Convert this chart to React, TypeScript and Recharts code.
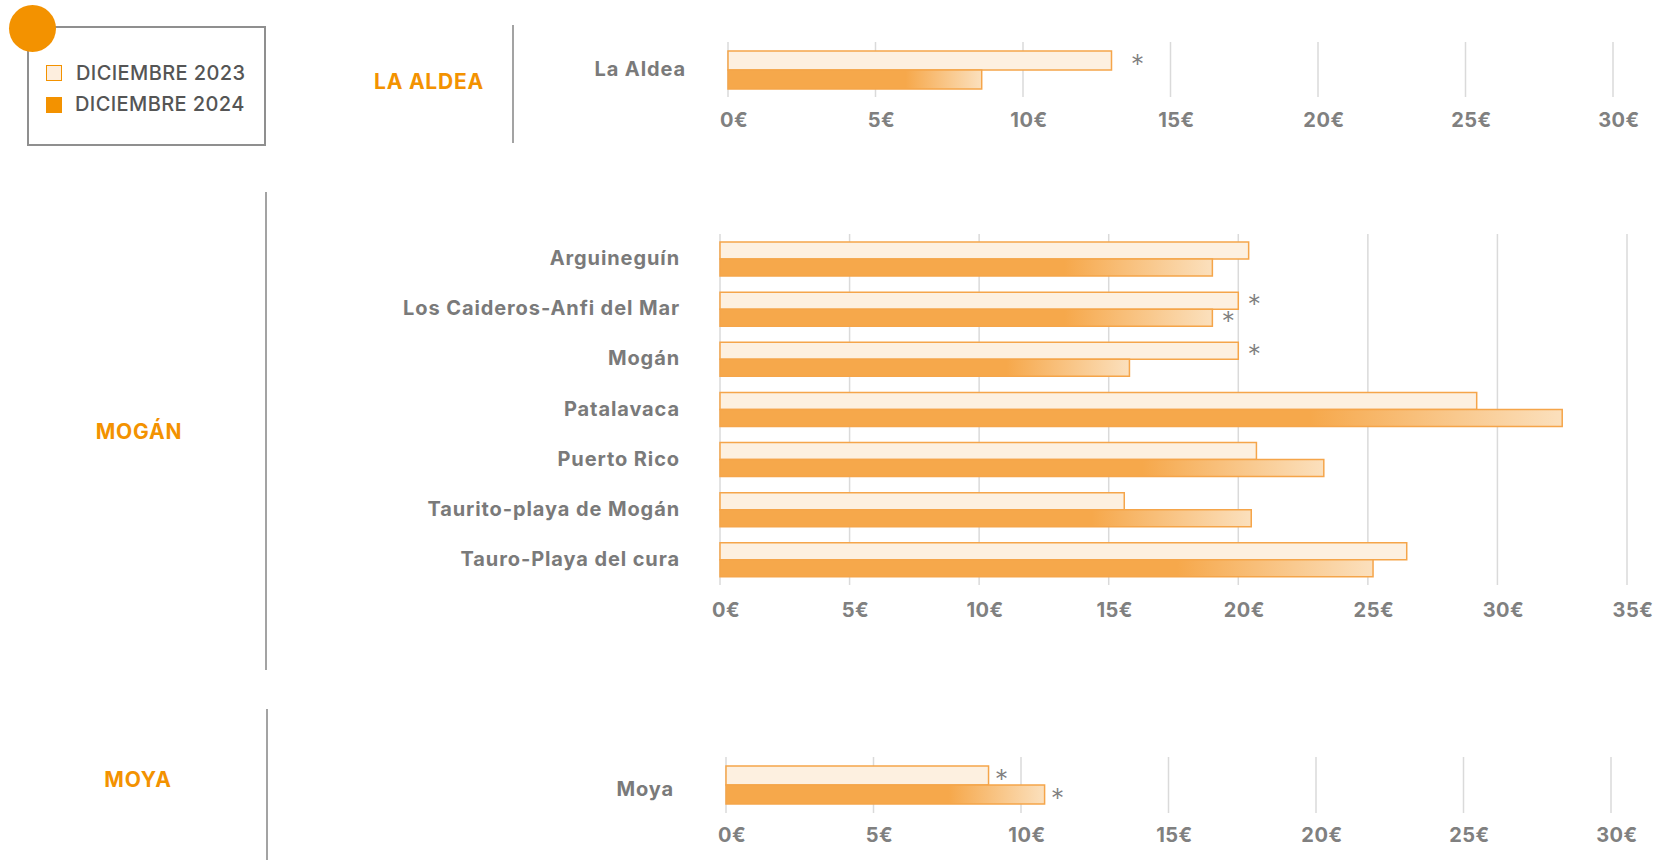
import React from 'react';
import { BarChart, Bar, XAxis, YAxis, CartesianGrid, LabelList } from 'recharts';

// La Aldea
const aldeaNames = ['La Aldea'];
const aldea2023 = [13.0];
const aldea2024 = [8.6];
const aldeaStar2023 = [true];
const aldeaStar2024 = [false];

// Mogán
const moganNames = [
  'Arguineguín',
  'Los Caideros-Anfi del Mar',
  'Mogán',
  'Patalavaca',
  'Puerto Rico',
  'Taurito-playa de Mogán',
  'Tauro-Playa del cura',
];
const mogan2023 = [20.4, 20.0, 20.0, 29.2, 20.7, 15.6, 26.5];
const mogan2024 = [19.0, 19.0, 15.8, 32.5, 23.3, 20.5, 25.2];
const moganStar2023 = [false, true, true, false, false, false, false];
const moganStar2024 = [false, true, false, false, false, false, false];

// Moya
const moyaNames = ['Moya'];
const moya2023 = [8.9];
const moya2024 = [10.8];
const moyaStar2023 = [true];
const moyaStar2024 = [true];

const ticks30 = [0, 5, 10, 15, 20, 25, 30];
const ticks35 = [0, 5, 10, 15, 20, 25, 30, 35];

const FONT = 'Inter, "Open Sans", sans-serif';
const ORANGE = '#f39200';
const BAR_ORANGE = '#f6a84b';
const BAR_STROKE = '#f5a54a';
const LIGHT = '#fdf0e0';
const GRAY_TEXT = '#7a7a7a';

interface SectionProps {
  id: string;
  names: string[];
  v2023: number[];
  v2024: number[];
  star2023: boolean[];
  star2024: boolean[];
  ticks: number[];
  top: number;
  height: number;
  plotTop: number;
  plotBottom: number;
  plotLeft: number;
  plotRight: number;
  barSize: number;
  labelRight: number;
  labelDy: number;
  tickGap: number;
  starDx: number;
}

const Section: React.FC<SectionProps> = (p) => {
  const data = p.names.map((name, i) => ({
    name,
    d2023: p.v2023[i],
    d2024: p.v2024[i],
    s2023: p.star2023[i],
    s2024: p.star2024[i],
  }));
  const xAxisHeight = p.height - p.plotBottom;
  const gradId = `grad-${p.id}`;

  const renderStar = (props: any) => {
    const { x, y, width, height, value } = props;
    if (!value) return null;
    return (
      <text
        x={Number(x) + Number(width) + p.starDx}
        y={Number(y) + Number(height) / 2 + 13}
        fill="#808080"
        fontSize={27}
        fontFamily={FONT}
        fontWeight={300}
        textAnchor="middle"
      >
        *
      </text>
    );
  };

  return (
    <div style={{ position: 'absolute', left: 0, top: p.top }}>
      <BarChart
        width={1658}
        height={p.height}
        data={data}
        layout="vertical"
        barGap={0}
        margin={{ top: p.plotTop, right: 1658 - p.plotRight, left: 0, bottom: 0 }}
      >
        <defs>
          <linearGradient id={gradId} x1="0" y1="0" x2="1" y2="0">
            <stop offset="0" stopColor={BAR_ORANGE} />
            <stop offset="0.7" stopColor={BAR_ORANGE} />
            <stop offset="1" stopColor="#fbe0bd" />
          </linearGradient>
        </defs>
        <CartesianGrid horizontal={false} stroke="#dadada" strokeWidth={1.5} />
        <XAxis
          type="number"
          domain={[0, p.ticks[p.ticks.length - 1]]}
          ticks={p.ticks}
          height={xAxisHeight}
          axisLine={false}
          tickLine={false}
          interval={0}
          tick={(t: any) => (
            <text
              x={t.x + 6}
              y={p.plotBottom + p.tickGap}
              textAnchor="middle"
              dominantBaseline="central"
              fill="#808080"
              fontSize={20}
              fontWeight={700}
              fontFamily={FONT}
              letterSpacing={0.5}
            >
              {`${t.payload.value}€`}
            </text>
          )}
        />
        <YAxis
          type="category"
          dataKey="name"
          width={p.plotLeft}
          axisLine={false}
          tickLine={false}
          interval={0}
          tick={(t: any) => (
            <text
              x={p.labelRight}
              y={t.y + p.labelDy}
              textAnchor="end"
              dominantBaseline="central"
              fill={GRAY_TEXT}
              fontSize={20}
              fontWeight={700}
              fontFamily={FONT}
              letterSpacing={0.9}
            >
              {t.payload.value}
            </text>
          )}
        />
        <Bar
          dataKey="d2023"
          barSize={p.barSize}
          fill={LIGHT}
          stroke={BAR_STROKE}
          strokeWidth={1.5}
          isAnimationActive={false}
        >
          <LabelList dataKey="s2023" content={renderStar} />
        </Bar>
        <Bar
          dataKey="d2024"
          barSize={p.barSize}
          fill={`url(#${gradId})`}
          stroke={BAR_STROKE}
          strokeWidth={1.5}
          isAnimationActive={false}
        >
          <LabelList dataKey="s2024" content={renderStar} />
        </Bar>
      </BarChart>
    </div>
  );
};

const sectionTitle: React.CSSProperties = {
  position: 'absolute',
  transform: 'translate(-50%, -50%)',
  color: ORANGE,
  fontFamily: FONT,
  fontWeight: 700,
  fontSize: 21,
  letterSpacing: 0.8,
  whiteSpace: 'nowrap',
};

const vline = (left: number, top: number, height: number): React.CSSProperties => ({
  position: 'absolute',
  left,
  top,
  width: 2,
  height,
  background: '#a3a3a3',
});

const legendText: React.CSSProperties = {
  position: 'absolute',
  transform: 'translateY(-50%)',
  color: '#555',
  fontFamily: FONT,
  fontWeight: 500,
  fontSize: 20,
  letterSpacing: 0.4,
  whiteSpace: 'nowrap',
};

export default function App() {
  return (
    <div
      style={{
        position: 'absolute',
        left: 0,
        top: 0,
        width: 1658,
        height: 860,
        background: '#fff',
        overflow: 'hidden',
      }}
    >
      {/* legend */}
      <div
        style={{
          position: 'absolute',
          left: 27,
          top: 26,
          width: 239,
          height: 120,
          boxSizing: 'border-box',
          border: '2px solid #8f8f8f',
        }}
      />
      <div
        style={{
          position: 'absolute',
          left: 9,
          top: 5,
          width: 47,
          height: 47,
          borderRadius: '50%',
          background: ORANGE,
        }}
      />
      <div
        style={{
          position: 'absolute',
          left: 46,
          top: 65,
          width: 16,
          height: 16,
          boxSizing: 'border-box',
          background: '#fdeede',
          border: `1.5px solid ${ORANGE}`,
        }}
      />
      <div style={{ ...legendText, left: 76, top: 73 }}>DICIEMBRE 2023</div>
      <div
        style={{ position: 'absolute', left: 46, top: 97, width: 16, height: 16, background: ORANGE }}
      />
      <div style={{ ...legendText, left: 75, top: 104 }}>DICIEMBRE 2024</div>

      {/* section titles and separators */}
      <div style={{ ...sectionTitle, left: 429, top: 81 }}>LA ALDEA</div>
      <div style={vline(512, 25, 118)} />
      <div style={{ ...sectionTitle, left: 139, top: 431 }}>MOGÁN</div>
      <div style={vline(265, 192, 478)} />
      <div style={{ ...sectionTitle, left: 138, top: 779 }}>MOYA</div>
      <div style={vline(266, 709, 151)} />

      <Section
        id="aldea"
        names={aldeaNames}
        v2023={aldea2023}
        v2024={aldea2024}
        star2023={aldeaStar2023}
        star2024={aldeaStar2024}
        ticks={ticks30}
        top={0}
        height={140}
        plotTop={42}
        plotBottom={97}
        plotLeft={728}
        plotRight={1613}
        barSize={19}
        labelRight={686}
        labelDy={-1}
        tickGap={23}
        starDx={26}
      />
      <Section
        id="mogan"
        names={moganNames}
        v2023={mogan2023}
        v2024={mogan2024}
        star2023={moganStar2023}
        star2024={moganStar2024}
        ticks={ticks35}
        top={180}
        height={460}
        plotTop={54}
        plotBottom={405}
        plotLeft={720}
        plotRight={1627}
        barSize={17}
        labelRight={680}
        labelDy={-1}
        tickGap={25}
        starDx={16}
      />
      <Section
        id="moya"
        names={moyaNames}
        v2023={moya2023}
        v2024={moya2024}
        star2023={moyaStar2023}
        star2024={moyaStar2024}
        ticks={ticks30}
        top={720}
        height={140}
        plotTop={37}
        plotBottom={93}
        plotLeft={726}
        plotRight={1611}
        barSize={19}
        labelRight={674}
        labelDy={4}
        tickGap={22}
        starDx={13}
      />
    </div>
  );
}
